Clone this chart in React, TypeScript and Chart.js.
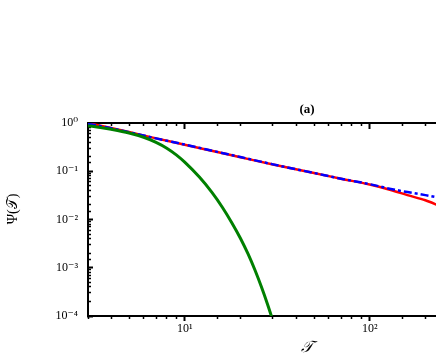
import React, { useEffect, useRef } from "react";
import { Chart, registerables } from "chart.js";

Chart.register(...registerables);

// ---- data ----
const tauRed = [3, 4, 5, 7, 10, 15, 20, 30, 50, 70, 100, 130, 160, 200, 240];
const psiRed = [1.0, 0.79, 0.65, 0.48, 0.355, 0.25, 0.195, 0.138, 0.092, 0.07, 0.053, 0.041, 0.032, 0.025, 0.019];

const tauBlue = [3, 4, 5, 7, 10, 15, 20, 30, 50, 70, 100, 130, 160, 200, 240];
const psiBlue = [0.96, 0.78, 0.645, 0.48, 0.357, 0.252, 0.197, 0.139, 0.092, 0.07, 0.054, 0.043, 0.037, 0.032, 0.028];

const tauGreen = [3, 3.5, 4, 5, 6, 7, 8, 9, 10, 12, 14, 16, 18, 20, 22, 24, 26, 28, 29.4, 30.5];
const psiGreen = [
  0.878, 0.8065, 0.741, 0.622, 0.507, 0.3985, 0.301, 0.2187, 0.1549, 0.0758,
  0.0369, 0.01777, 0.00848, 0.00409, 0.00193, 0.000885, 0.000397, 0.000177, 0.0001, 0.0000631,
];

const xMin = 3;
const xMax = 700;
const yMin = 1e-4;
const yMax = 1;

const panelLabel = "(a)";
const xTitle = "𝒯";
const yTitle = "\u2003\u2002Ψ(𝒯)";

const SUP: Record<string, string> = {
  "0": "⁰", "1": "¹", "2": "²", "3": "³", "4": "⁴",
  "5": "⁵", "6": "⁶", "7": "⁷", "8": "⁸", "9": "⁹", "-": "⁻",
};

function decadeOf(v: number): number | null {
  const l = Math.log10(v);
  const r = Math.round(l);
  return Math.abs(l - r) < 1e-6 ? r : null;
}

function powLabel(v: number): string {
  const d = decadeOf(v);
  if (d === null) return "";
  return "10" + String(d).split("").map((c) => SUP[c] || c).join("");
}

const SERIF = '"Liberation Serif", "DejaVu Serif", serif';

export default function App() {
  const ref = useRef<HTMLCanvasElement | null>(null);

  useEffect(() => {
    if (!ref.current) return;
    const isMajor = (ctx: any) => ctx.tick && decadeOf(ctx.tick.value) !== null;

    const chart = new Chart(ref.current, {
      type: "line",
      data: {
        datasets: [
          {
            label: "green",
            data: tauGreen.map((t, i) => ({ x: t, y: psiGreen[i] })),
            borderColor: "#008000",
            borderWidth: 3,
            pointRadius: 0,
            cubicInterpolationMode: "monotone",
            clip: 0,
          },
          {
            label: "blue",
            data: tauBlue.map((t, i) => ({ x: t, y: psiBlue[i] })),
            borderColor: "#0000ff",
            borderWidth: 2.5,
            borderDash: [8, 3, 3, 3],
            pointRadius: 0,
            cubicInterpolationMode: "monotone",
            clip: 0,
          },
          {
            label: "red",
            data: tauRed.map((t, i) => ({ x: t, y: psiRed[i] })),
            borderColor: "#ff0000",
            borderWidth: 2.5,
            pointRadius: 0,
            cubicInterpolationMode: "monotone",
            clip: 0,
          },
        ],
      },
      options: {
        responsive: false,
        animation: false,
        devicePixelRatio: 1,
        layout: { padding: { left: 0, right: 14, top: 0, bottom: 0 } },
        plugins: {
          legend: { display: false },
          tooltip: { enabled: false },
          title: { display: false },
        },
        scales: {
          x: {
            type: "logarithmic",
            position: "bottom",
            min: xMin,
            max: xMax,
            border: { display: true, color: "#000", width: 2 },
            grid: {
              drawOnChartArea: false,
              drawTicks: true,
              tickLength: 5,
              tickColor: "#000",
              tickWidth: (ctx: any) => (isMajor(ctx) ? 2 : 1.5),
              tickBorderDash: (ctx: any) => (isMajor(ctx) ? [] : [2, 100]),
            },
            ticks: {
              autoSkip: false,
              maxRotation: 0,
              padding: 1,
              color: "#000",
              font: { family: SERIF, size: 12 },
              callback: (v: any) => powLabel(Number(v)),
            },
            title: {
              display: true,
              text: xTitle,
              color: "#000",
              font: { family: SERIF, size: 16, style: "italic", lineHeight: 0.8 },
              padding: { top: 0, bottom: 0 },
            },
            afterFit: (s: any) => {
              s.height = 38;
            },
          },
          x2: {
            type: "logarithmic",
            position: "top",
            min: xMin,
            max: xMax,
            border: { display: true, color: "#000", width: 2 },
            grid: {
              drawOnChartArea: false,
              drawTicks: true,
              tickLength: -6,
              tickColor: "#000",
              tickWidth: (ctx: any) => (isMajor(ctx) ? 2 : 1.5),
              tickBorderDash: (ctx: any) => (isMajor(ctx) ? [] : [0, 3, 4, 100]),
            },
            ticks: { display: false, autoSkip: false },
            title: {
              display: true,
              text: panelLabel,
              color: "#000",
              font: { family: SERIF, size: 13, weight: "bold", lineHeight: 1.2 },
              padding: { top: 102, bottom: 0 },
            },
            afterFit: (s: any) => {
              s.height = 123;
            },
          },
          y: {
            type: "logarithmic",
            position: "left",
            min: yMin,
            max: yMax,
            border: { display: true, color: "#000", width: 2 },
            grid: {
              drawOnChartArea: false,
              drawTicks: true,
              tickLength: -5,
              tickColor: "#000",
              tickWidth: (ctx: any) => (isMajor(ctx) ? 2 : 1.5),
              tickBorderDash: (ctx: any) => (isMajor(ctx) ? [] : [0, 2, 4, 100]),
            },
            ticks: {
              autoSkip: false,
              padding: 15,
              color: "#000",
              font: { family: SERIF, size: 12 },
              callback: (v: any) => powLabel(Number(v)),
            },
            title: {
              display: true,
              text: yTitle,
              color: "#000",
              font: { family: SERIF, size: 14, lineHeight: 1 },
              padding: { top: 6, bottom: 0 },
            },
            afterFit: (s: any) => {
              s.width = 88;
            },
          },
        },
      } as any,
    });
    return () => chart.destroy();
  }, []);

  return (
    <div
      style={{
        position: "fixed",
        left: 0,
        top: 0,
        width: 436,
        height: 354,
        overflow: "hidden",
        background: "#fff",
      }}
    >
      <canvas ref={ref} width={540} height={354} style={{ width: 540, height: 354, display: "block" }} />
    </div>
  );
}
